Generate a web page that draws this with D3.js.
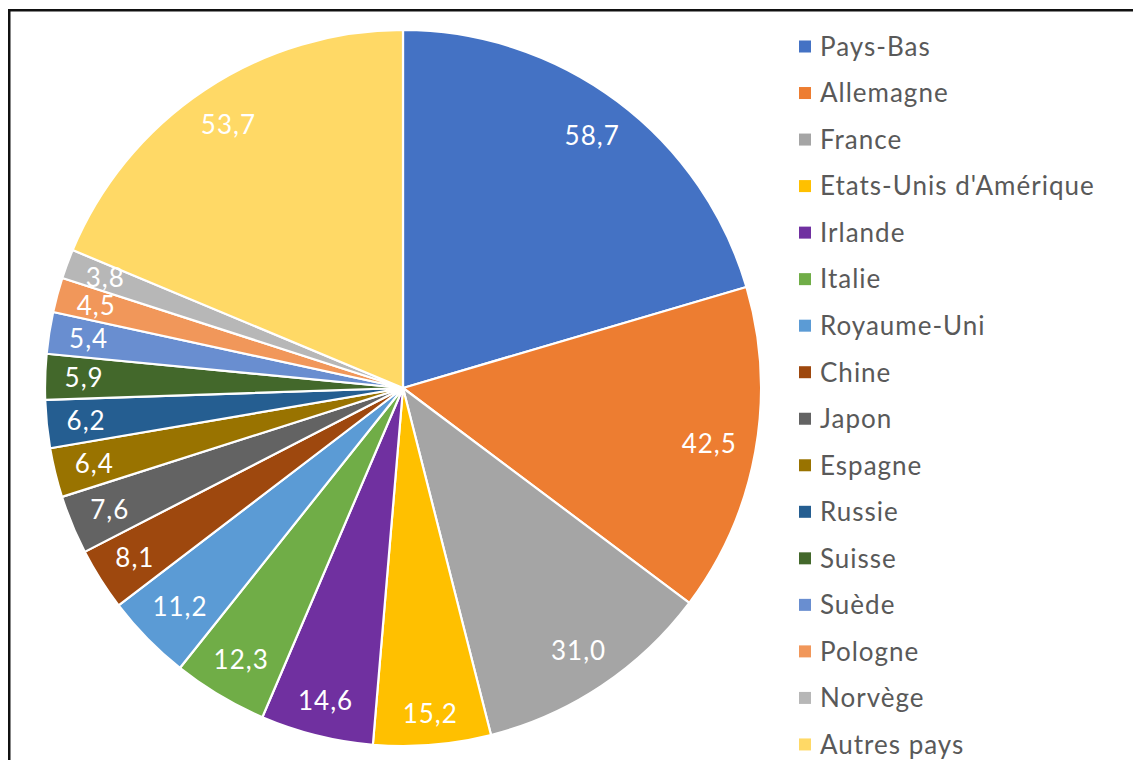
<!DOCTYPE html>
<html><head><meta charset="utf-8">
<script src="https://cdn.jsdelivr.net/npm/d3@7"></script>
<style>body{margin:0;background:#fff}svg{display:block}</style>
</head><body>
<svg id="c" width="1133" height="760"></svg>
<script>
const categories = ["Pays-Bas","Allemagne","France","Etats-Unis d'Amérique","Irlande","Italie","Royaume-Uni","Chine","Japon","Espagne","Russie","Suisse","Suède","Pologne","Norvège","Autres pays"];
const values = [58.7,42.5,31.0,15.2,14.6,12.3,11.2,8.1,7.6,6.4,6.2,5.9,5.4,4.5,3.8,53.7];
const colors = ["#4472C4","#ED7D31","#A5A5A5","#FFC000","#7030A0","#70AD47","#5B9BD5","#9E480E","#636363","#997300","#255E91","#43682B","#698ED0","#F1975A","#B7B7B7","#FFD966"];

const svg = d3.select("#c");
const cx = 403, cy = 388, R = 358;
const FONT = "Lato, 'Open Sans', sans-serif";
const FS = 26, LS = 1;

svg.append("rect").attr("x",9.25).attr("y",10.25).attr("width",1400).attr("height",1000)
  .attr("fill","none").attr("stroke","#111").attr("stroke-width",2.5);

const pie = d3.pie().sort(null).value(d=>d.v);
const data = pie(categories.map((c,i)=>({c, v: values[i], col: colors[i]})));
const arc = d3.arc().innerRadius(0).outerRadius(R);
const g = svg.append("g").attr("transform",`translate(${cx},${cy})`);
g.selectAll("path").data(data).join("path")
  .attr("d",arc).attr("fill",d=>d.data.col).attr("stroke","#fff").attr("stroke-width",2.2).attr("stroke-linejoin","round");

const fmt = v => v.toFixed(1).replace(".",",");
const hh = 9.3;
g.selectAll("text.lab").data(data).join("text").attr("class","lab")
  .attr("font-family",FONT).attr("font-size",FS).attr("letter-spacing",LS).attr("fill","#fff")
  .attr("text-anchor","start")
  .text(d=>fmt(d.data.v))
  .each(function(d){
    const tw = this.getComputedTextLength() - LS;
    const w = tw/2;
    const a = (d.startAngle+d.endAngle)/2;
    const dx = Math.sin(a), dy = -Math.cos(a);
    const target = R - 19;
    let rho = target;
    for(let k=0;k<60;k++){
      const x = rho*dx, y = rho*dy;
      const fx = x + Math.sign(dx||1)*w, fy = y + Math.sign(dy||1)*hh;
      const dist = Math.hypot(fx,fy);
      rho -= (dist-target)*0.5;
    }
    d3.select(this).attr("x",rho*dx - w).attr("y",rho*dy+hh);
  });

const leg = svg.append("g");
const rows = leg.selectAll("g").data(categories).join("g")
  .attr("transform",(d,i)=>`translate(799,${46.5+i*46.53})`);
rows.append("rect").attr("x",0).attr("y",-6).attr("width",12).attr("height",12).attr("fill",(d,i)=>colors[i]);
rows.append("text").attr("x",21).attr("y",9.3).attr("font-family",FONT).attr("font-size",FS).attr("letter-spacing",LS).attr("fill","#595959").text(d=>d);
</script>
</body></html>
